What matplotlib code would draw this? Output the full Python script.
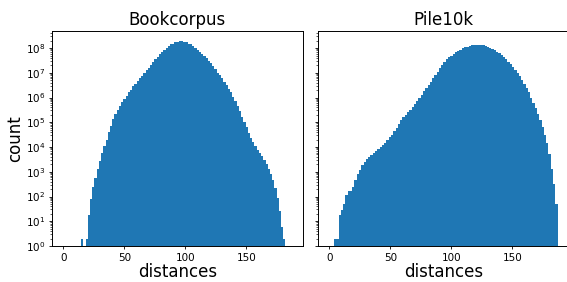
import numpy as np
import matplotlib
matplotlib.use('Agg')
import matplotlib.pyplot as plt

# histogram counts (100 bins each, from 0 to the max distance)
book_max = 182
book_counts = [0, 0, 0, 0, 0, 0, 0, 0, 2, 0,
               2, 18, 79, 250, 560, 1.3e3, 2.8e3, 5.6e3, 1.1e4, 2.0e4,
               4.0e4, 7.1e4, 1.3e5, 2.1e5, 3.2e5, 4.7e5, 6.6e5, 8.9e5, 1.2e6, 1.6e6,
               2.1e6, 2.8e6, 3.6e6, 4.7e6, 5.9e6, 7.6e6, 9.8e6, 1.3e7, 1.6e7, 2.1e7,
               2.7e7, 3.5e7, 4.4e7, 5.6e7, 6.9e7, 8.5e7, 1.0e8, 1.2e8, 1.4e8, 1.5e8,
               1.7e8, 1.8e8, 1.9e8, 1.9e8, 1.8e8, 1.7e8, 1.5e8, 1.4e8, 1.2e8, 1.0e8,
               8.7e7, 7.2e7, 6.0e7, 4.9e7, 3.9e7, 3.1e7, 2.4e7, 1.8e7, 1.4e7, 1.0e7,
               7.9e6, 5.9e6, 4.4e6, 3.2e6, 2.2e6, 1.6e6, 1.1e6, 7.1e5, 4.5e5, 2.8e5,
               1.7e5, 1.0e5, 6.3e4, 3.8e4, 2.4e4, 1.6e4, 1.1e4, 7.9e3, 5.9e3, 4.3e3,
               3.0e3, 2.0e3, 1.3e3, 830, 480, 220, 89, 25, 6, 2]

pile_max = 187
pile_counts = [0, 0, 2, 2, 18, 28, 52, 110, 160, 170,
               250, 480, 790, 1.2e3, 1.8e3, 2.5e3, 3.2e3, 4.0e3, 4.8e3, 5.9e3,
               7.1e3, 8.5e3, 1.0e4, 1.2e4, 1.5e4, 1.9e4, 2.5e4, 3.2e4, 4.3e4, 6.0e4,
               8.9e4, 1.2e5, 1.6e5, 2.0e5, 2.5e5, 3.2e5, 4.2e5, 5.5e5, 7.4e5, 1.0e6,
               1.3e6, 1.9e6, 2.5e6, 3.3e6, 4.4e6, 6.0e6, 8.1e6, 1.1e7, 1.5e7, 2.0e7,
               2.7e7, 3.5e7, 4.3e7, 5.0e7, 5.9e7, 6.8e7, 7.8e7, 8.7e7, 9.8e7, 1.07e8,
               1.15e8, 1.23e8, 1.29e8, 1.32e8, 1.35e8, 1.35e8, 1.32e8, 1.29e8, 1.23e8, 1.15e8,
               1.05e8, 9.3e7, 8.3e7, 7.2e7, 6.2e7, 5.1e7, 4.3e7, 3.5e7, 2.8e7, 2.2e7,
               1.7e7, 1.3e7, 9.5e6, 7.1e6, 5.0e6, 3.5e6, 2.4e6, 1.6e6, 1.0e6, 6.3e5,
               3.7e5, 2.1e5, 1.2e5, 6.3e4, 3.2e4, 1.4e4, 5.0e3, 1.3e3, 320, 52]

titles = ['Bookcorpus', 'Pile10k']

plt.rcParams['xtick.labelsize'] = 7.5
plt.rcParams['ytick.labelsize'] = 7.5
plt.rcParams['xtick.major.size'] = 2.5
plt.rcParams['ytick.major.size'] = 2.5
plt.rcParams['ytick.minor.size'] = 1.5
plt.rcParams['xtick.major.pad'] = 2.5
plt.rcParams['ytick.major.pad'] = 2.5
plt.rcParams['xtick.major.width'] = 0.6
plt.rcParams['ytick.major.width'] = 0.6
plt.rcParams['ytick.minor.width'] = 0.45
plt.rcParams['axes.linewidth'] = 0.7

fig = plt.figure(figsize=(5.67, 2.82), dpi=100)
ax1 = fig.add_axes([0.0917, 0.1277, 0.4427, 0.7624])
ax2 = fig.add_axes([0.5608, 0.1277, 0.4427, 0.7624], sharex=ax1, sharey=ax1)

for axis, counts, dmax, title in zip([ax1, ax2], [book_counts, pile_counts],
                                     [book_max, pile_max], titles):
    edges = np.linspace(0, dmax, len(counts) + 1)
    centers = 0.5 * (edges[:-1] + edges[1:])
    axis.hist(centers, bins=edges, weights=counts, log=True, color='#1f77b4')
    axis.set_title(title, fontsize=12, pad=4)
    axis.set_xlabel('distances', fontsize=12, labelpad=0)

ax1.set_ylabel('count', fontsize=12, labelpad=1)
ax1.set_ylim(1, 4.9e8)
ax1.set_xticks([0, 50, 100, 150])
ax2.tick_params(labelleft=False)

plt.savefig('out.png', dpi=100)
